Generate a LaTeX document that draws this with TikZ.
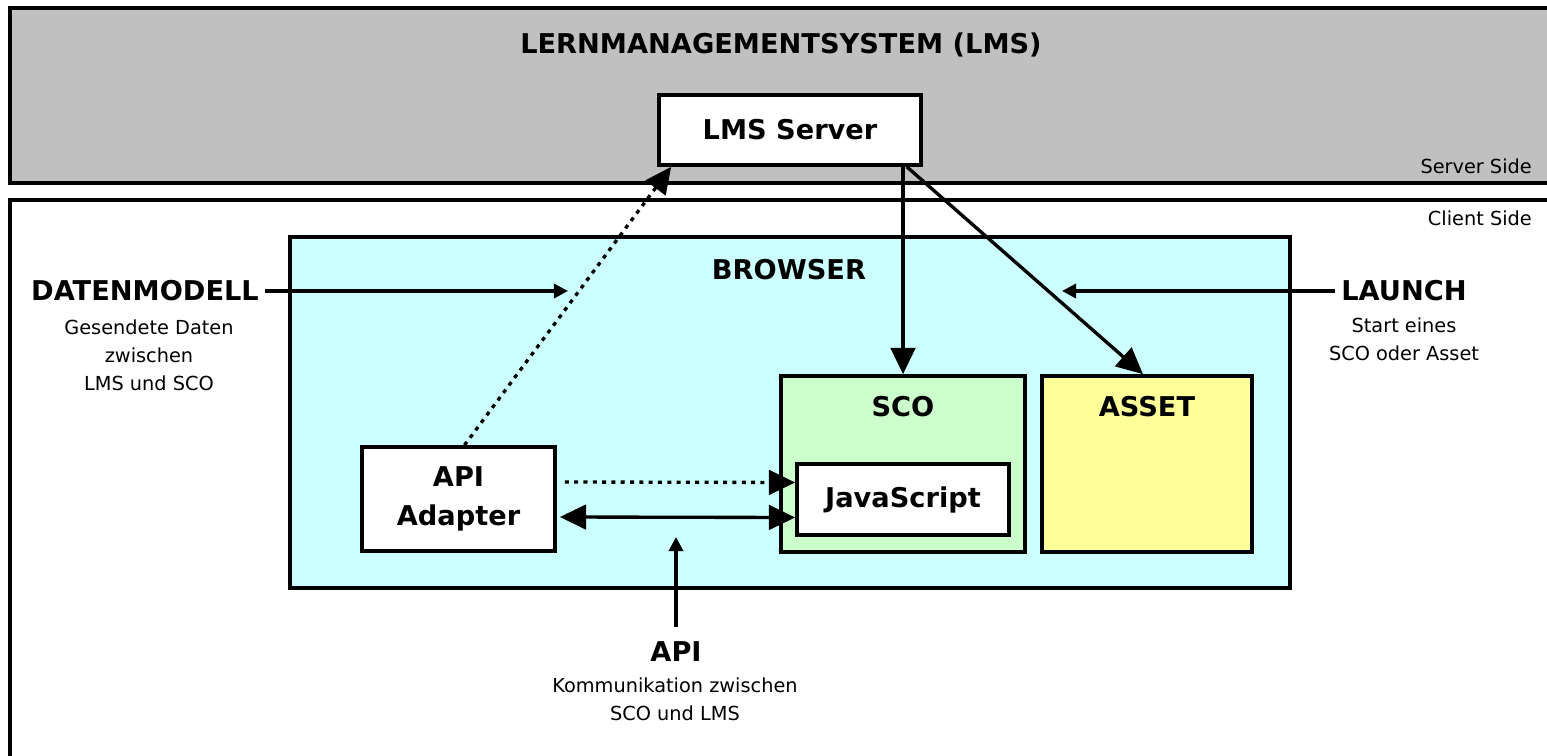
\documentclass[tikz,border=0pt]{standalone}
\usepackage{fontspec}
\setmainfont{DejaVu Sans}
\usetikzlibrary{arrows.meta,calc,positioning}
\definecolor{lmsgray}{HTML}{C0C0C0}
\definecolor{browsercyan}{HTML}{CCFFFF}
\definecolor{scogreen}{HTML}{CCFFCC}
\definecolor{assetyellow}{HTML}{FFFF99}
\tikzset{
  region/.style={line width=2.1pt},
  box/.style={draw, line width=2.1pt, inner sep=0pt},
  heading/.style={font=\bfseries\fontsize{15.5}{22}\selectfont, align=center},
  note/.style={font=\fontsize{11}{16}\selectfont, align=center},
  conn/.style={line width=1.9pt},
  dotline/.style={line width=1.9pt, dash pattern=on 2.3pt off 3pt},
  bigtip/.style={-{Triangle[length=15pt,width=14pt]}},
  bigtips/.style={{Triangle[length=15pt,width=14pt]}-{Triangle[length=15pt,width=14pt]}},
  smalltip/.style={-{Triangle[length=8pt,width=8pt]}}
}
\begin{document}
\begin{tikzpicture}[x=0.02cm, y=-0.02cm]
  \useasboundingbox (0,0) rectangle (1547,756);
  % server side / client side
  \draw[region, fill=lmsgray] (10,8) rectangle (1600,183);
  \draw[region] (10,200) rectangle (1600,800);
  \node[heading] (lms) at (781,45) {LERNMANAGEMENTSYSTEM (LMS)};
  \node[note, anchor=east] (srvside) at (1538,166) {Server Side};
  \node[note, anchor=east] (cltside) at (1538,218) {Client Side};
  \node[box, fill=white, minimum width=5.24cm, minimum height=1.4cm, heading] (server) at (790,130) {LMS Server};

  % browser with SCO and asset
  \node[box, fill=browsercyan, minimum width=20cm, minimum height=7.02cm] (browser) at (790,412.5) {};
  \node[heading] (browsertxt) at (789,270) {BROWSER};
  \node[box, fill=scogreen, minimum width=4.88cm, minimum height=3.52cm] (sco) at (903,464) {};
  \node[heading] (scotxt) at (903,407) {SCO};
  \node[box, fill=assetyellow, minimum width=4.2cm, minimum height=3.52cm] (asset) at (1147,464) {};
  \node[heading] (assettxt) at (1147,407) {ASSET};
  \node[box, fill=white, minimum width=4.24cm, minimum height=1.42cm, heading] (js) at (903,499.5) {JavaScript};
  \node[box, fill=white, minimum width=3.86cm, minimum height=2.08cm, heading] (adapter) at (458.5,499) {API\\Adapter};

  % connectors
  \draw[dotline, bigtip] ($(adapter.north)+(6,0)$) -- ($(server.south west)+(14,0)$);
  \draw[conn, bigtip] (sco.north |- server.south) -- (sco.north);
  \draw[conn, bigtip] ($(server.south east)+(-16,0)$) -- ($(asset.north)+(-4,0)$);
  \draw[dotline, bigtip] ($(adapter.east)+(8,-17)$) -- ($(js.west)+(0,-17)$);
  \draw[conn, bigtips] ($(adapter.east)+(3,18)$) -- ($(js.west)+(0,18)$);

  % labels with pointers
  \node[heading] (dm) at (145,291) {DATENMODELL};
  \node[note] (dmnote) at (149,355) {Gesendete Daten\\zwischen\\LMS und SCO};
  \coordinate (dmtip) at (568,291);
  \draw[conn, smalltip] (dm.east) -- (dmtip);

  \node[heading] (launch) at (1404,291) {LAUNCH};
  \node[note] (launchnote) at (1404,339) {Start eines\\SCO oder Asset};
  \coordinate (launchtip) at (1062,291);
  \draw[conn, smalltip] (launch.west) -- (launchtip);

  \node[heading] (api) at (676,652) {API};
  \node[note] (apinote) at (675,699) {Kommunikation zwischen\\SCO und LMS};
  \coordinate (apitip) at (676,537);
  \draw[conn, smalltip, shorten <=5pt] (api.north) -- (apitip);
\end{tikzpicture}
\end{document}
